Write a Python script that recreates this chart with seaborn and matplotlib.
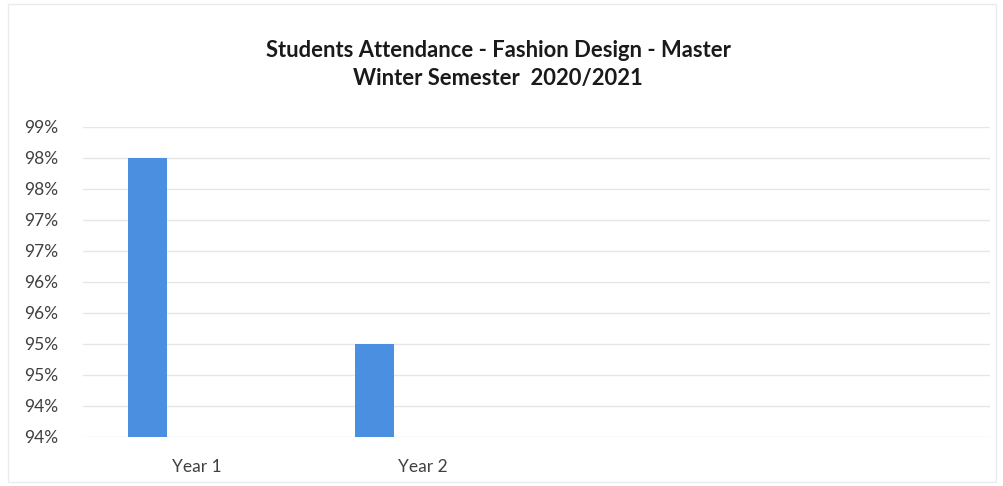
import matplotlib

matplotlib.use("Agg")
import matplotlib.pyplot as plt
import numpy as np
import pandas as pd
import seaborn as sns

# data (axis minimum 93.8 %, major unit 0.5 %)
categories = ["Year 1", "Year 2", " ", "  "]
attendance = [98.3, 95.3, np.nan, np.nan]
series_order = ["Attendance", "s2", "s3"]
y_min, y_max, y_step = 93.8, 98.8, 0.5
title = "Students Attendance - Fashion Design - Master\nWinter Semester  2020/2021"

df = pd.DataFrame({"year": categories, "value": attendance, "series": "Attendance"})

sns.set_theme(style="white")
plt.rcParams["font.family"] = ["Lato", "DejaVu Sans"]

fig = plt.figure(figsize=(10.04, 4.86), dpi=100)
ax = fig.add_axes([0.083, 0.101, 0.903, 0.638])

sns.barplot(
    data=df,
    x="year",
    y="value",
    hue="series",
    hue_order=series_order,
    order=categories,
    palette=["#4a8fe0", "#4a8fe0", "#4a8fe0"],
    saturation=1,
    width=0.65,
    gap=0.2,
    dodge=True,
    legend=False,
    ax=ax,
)
for bar in ax.patches:
    bar.set_linewidth(0)

ticks = np.arange(y_min, y_max + y_step / 2, y_step)
ax.set_ylim(y_min, y_max)
ax.set_yticks(ticks)
ax.set_yticklabels([f"{t:.0f}%" for t in ticks])
ax.set_xlim(-0.5, len(categories) - 0.5)
ax.yaxis.grid(True, color="#e6e6e6", linewidth=1)
ax.set_axisbelow(True)
for side in ["top", "right", "left", "bottom"]:
    ax.spines[side].set_visible(False)
ax.tick_params(axis="both", length=0, labelsize=12.5, colors="#404040")
ax.tick_params(axis="y", pad=18)
ax.tick_params(axis="x", pad=16)
ax.set_xlabel("")
ax.set_ylabel("")

fig.text(0.496, 0.868, title, ha="center", va="center", fontsize=15.8,
         fontweight="bold", color="#1a1a1a", linespacing=1.4)

fig.patches.append(plt.Rectangle((0.008, 0.008), 0.984, 0.984, transform=fig.transFigure,
                                 fill=False, edgecolor="#ebebeb", linewidth=1))

plt.savefig("out.png", dpi=100)
plt.close()
